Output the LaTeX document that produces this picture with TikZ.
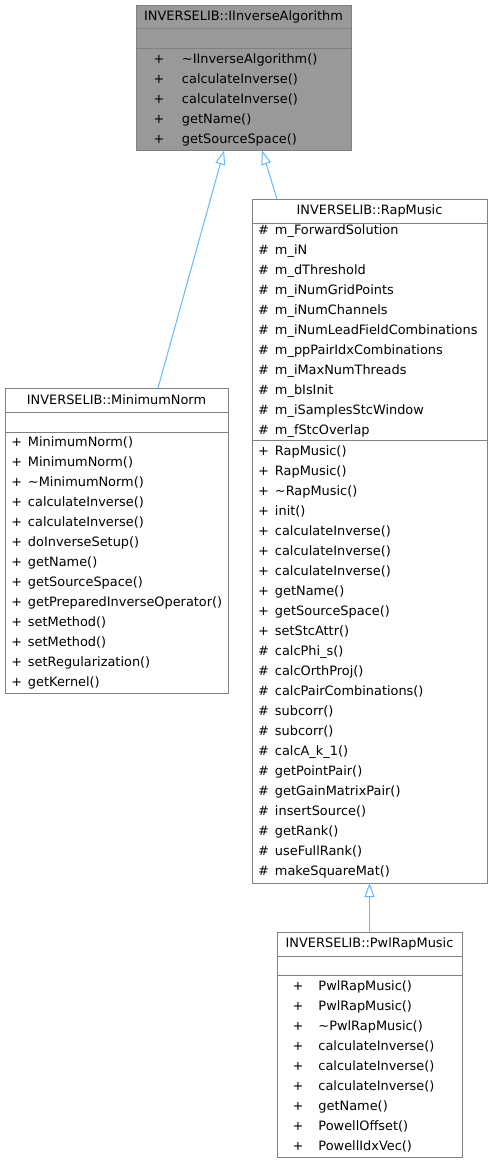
\documentclass[tikz,border=0pt]{standalone}
\usepackage{fontspec}
\setmainfont{DejaVu Sans}
\usepackage{tikz}
\usetikzlibrary{arrows.meta, positioning}
\definecolor{edgeblue}{RGB}{99, 184, 255}
\definecolor{framegray}{RGB}{128, 128, 128}
\definecolor{rootgray}{RGB}{153, 153, 153}
\newlength{\symw}
\newcommand{\mem}[2]{\makebox[\symw][l]{#1}#2}

\begin{document}
\begin{tikzpicture}[
  x=1pt, y=-1pt,
  font=\fontsize{12.9pt}{20pt}\selectfont,
  box/.style={rectangle, draw=framegray, line width=1pt, fill=white,
              inner sep=0pt, outer sep=0pt, minimum width=#1},
  head/.style={box=#1, minimum height=24pt, align=center},
  part/.style={box=#1, align=left},
  root/.style={fill=rootgray},
  cols/.style 2 args={inner xsep=#1, execute at begin node={\setlength{\symw}{#2}}},
  inherit/.style={draw=edgeblue, line width=1pt,
                  -{Triangle[open, length=14pt, width=10pt]}}
]
  \useasboundingbox (0,0) rectangle (493,1163);

  \node[head=215pt, root, minimum height=23.5pt, anchor=north west] (ia) at (136,5)
    {INVERSELIB::IInverseAlgorithm};
  \node[part=215pt, root, minimum height=20pt, below=0pt of ia] (iaattr) {};
  \node[part=215pt, root, minimum height=102pt, text width=180pt,
        cols={17.5pt}{28.5pt}, below=0pt of iaattr] (iaops)
    {\mem{+}{\textasciitilde IInverseAlgorithm()}\\
     \mem{+}{calculateInverse()}\\
     \mem{+}{calculateInverse()}\\
     \mem{+}{getName()}\\
     \mem{+}{getSourceSpace()}};

  \node[head=223pt, anchor=north west] (mn) at (5,388) {INVERSELIB::MinimumNorm};
  \node[part=223pt, minimum height=20pt, below=0pt of mn] (mnattr) {};
  \node[part=223pt, minimum height=261pt, text width=210pt,
        cols={6.5pt}{16.5pt}, below=0pt of mnattr] (mnops)
    {\mem{+}{MinimumNorm()}\\
     \mem{+}{MinimumNorm()}\\
     \mem{+}{\textasciitilde MinimumNorm()}\\
     \mem{+}{calculateInverse()}\\
     \mem{+}{calculateInverse()}\\
     \mem{+}{doInverseSetup()}\\
     \mem{+}{getName()}\\
     \mem{+}{getSourceSpace()}\\
     \mem{+}{getPreparedInverseOperator()}\\
     \mem{+}{setMethod()}\\
     \mem{+}{setMethod()}\\
     \mem{+}{setRegularization()}\\
     \mem{+}{getKernel()}};

  \node[head=235pt, anchor=north west] (rap) at (252,199) {INVERSELIB::RapMusic};
  \node[part=235pt, minimum height=217pt, text width=223pt,
        cols={6pt}{17pt}, below=0pt of rap] (rapattr)
    {\mem{\#}{m\_ForwardSolution}\\
     \mem{\#}{m\_iN}\\
     \mem{\#}{m\_dThreshold}\\
     \mem{\#}{m\_iNumGridPoints}\\
     \mem{\#}{m\_iNumChannels}\\
     \mem{\#}{m\_iNumLeadFieldCombinations}\\
     \mem{\#}{m\_ppPairIdxCombinations}\\
     \mem{\#}{m\_iMaxNumThreads}\\
     \mem{\#}{m\_bIsInit}\\
     \mem{\#}{m\_iSamplesStcWindow}\\
     \mem{\#}{m\_fStcOverlap}};
  \node[part=235pt, minimum height=443pt, text width=223pt,
        cols={6pt}{17pt}, below=0pt of rapattr] (rapops)
    {\mem{+}{RapMusic()}\\
     \mem{+}{RapMusic()}\\
     \mem{+}{\textasciitilde RapMusic()}\\
     \mem{+}{init()}\\
     \mem{+}{calculateInverse()}\\
     \mem{+}{calculateInverse()}\\
     \mem{+}{calculateInverse()}\\
     \mem{+}{getName()}\\
     \mem{+}{getSourceSpace()}\\
     \mem{+}{setStcAttr()}\\
     \mem{\#}{calcPhi\_s()}\\
     \mem{\#}{calcOrthProj()}\\
     \mem{\#}{calcPairCombinations()}\\
     \mem{\#}{subcorr()}\\
     \mem{\#}{subcorr()}\\
     \mem{\#}{calcA\_k\_1()}\\
     \mem{\#}{getPointPair()}\\
     \mem{\#}{getGainMatrixPair()}\\
     \mem{\#}{insertSource()}\\
     \mem{\#}{getRank()}\\
     \mem{\#}{useFullRank()}\\
     \mem{\#}{makeSquareMat()}};

  \node[head=185pt, anchor=north west] (pwl) at (277,932) {INVERSELIB::PwlRapMusic};
  \node[part=185pt, minimum height=19.5pt, below=0pt of pwl] (pwlattr) {};
  \node[part=185pt, minimum height=182pt, text width=154pt,
        cols={15.5pt}{26pt}, below=0pt of pwlattr] (pwlops)
    {\mem{+}{PwlRapMusic()}\\
     \mem{+}{PwlRapMusic()}\\
     \mem{+}{\textasciitilde PwlRapMusic()}\\
     \mem{+}{calculateInverse()}\\
     \mem{+}{calculateInverse()}\\
     \mem{+}{calculateInverse()}\\
     \mem{+}{getName()}\\
     \mem{+}{PowellOffset()}\\
     \mem{+}{PowellIdxVec()}};

  \draw[inherit] ([xshift=41.5pt]mn.north) -- ([xshift=-19.5pt]iaops.south);
  \draw[inherit] ([xshift=-92.5pt]rap.north) -- ([xshift=18.5pt]iaops.south);
  \draw[inherit] (pwl.north) -- (rapops.south);
\end{tikzpicture}
\end{document}
